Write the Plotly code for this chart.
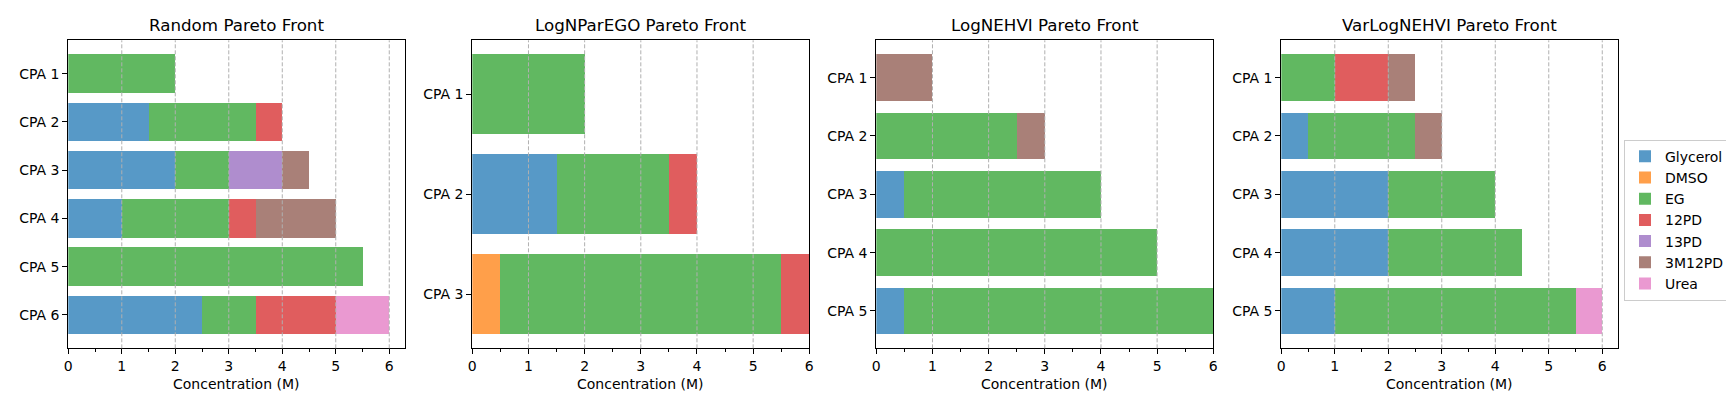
import plotly.graph_objects as go

W, H = 1734, 393

components = ["Glycerol", "DMSO", "EG", "12PD", "13PD", "3M12PD", "Urea"]
colors = ["rgba(31,119,180,0.75)", "rgba(255,127,14,0.75)", "rgba(44,160,44,0.75)",
          "rgba(214,39,40,0.75)", "rgba(148,103,189,0.75)", "rgba(140,86,75,0.75)",
          "rgba(227,119,194,0.75)"]

titles = ["Random Pareto Front", "LogNParEGO Pareto Front", "LogNEHVI Pareto Front", "VarLogNEHVI Pareto Front"]

random_cpas = ["CPA 1", "CPA 2", "CPA 3", "CPA 4", "CPA 5", "CPA 6"]
random_vals = {
    "Glycerol": [0, 1.5, 2, 1, 0, 2.5],
    "DMSO":     [0, 0, 0, 0, 0, 0],
    "EG":       [2, 2, 1, 2, 5.5, 1],
    "12PD":     [0, 0.5, 0, 0.5, 0, 1.5],
    "13PD":     [0, 0, 1, 0, 0, 0],
    "3M12PD":   [0, 0, 0.5, 1.5, 0, 0],
    "Urea":     [0, 0, 0, 0, 0, 1],
}

parego_cpas = ["CPA 1", "CPA 2", "CPA 3"]
parego_vals = {
    "Glycerol": [0, 1.5, 0],
    "DMSO":     [0, 0, 0.5],
    "EG":       [2, 2, 5],
    "12PD":     [0, 0.5, 0.5],
    "13PD":     [0, 0, 0],
    "3M12PD":   [0, 0, 0],
    "Urea":     [0, 0, 0],
}

nehvi_cpas = ["CPA 1", "CPA 2", "CPA 3", "CPA 4", "CPA 5"]
nehvi_vals = {
    "Glycerol": [0, 0, 0.5, 0, 0.5],
    "DMSO":     [0, 0, 0, 0, 0],
    "EG":       [0, 2.5, 3.5, 5, 5.5],
    "12PD":     [0, 0, 0, 0, 0],
    "13PD":     [0, 0, 0, 0, 0],
    "3M12PD":   [1, 0.5, 0, 0, 0],
    "Urea":     [0, 0, 0, 0, 0],
}

varnehvi_cpas = ["CPA 1", "CPA 2", "CPA 3", "CPA 4", "CPA 5"]
varnehvi_vals = {
    "Glycerol": [0, 0.5, 2, 2, 1],
    "DMSO":     [0, 0, 0, 0, 0],
    "EG":       [1, 2, 2, 2.5, 4.5],
    "12PD":     [1, 0, 0, 0, 0],
    "13PD":     [0, 0, 0, 0, 0],
    "3M12PD":   [0.5, 0.5, 0, 0, 0],
    "Urea":     [0, 0, 0, 0, 0.5],
}

x_ticks = [0, 1, 2, 3, 4, 5, 6]

panels = [(random_cpas, random_vals), (parego_cpas, parego_vals),
          (nehvi_cpas, nehvi_vals), (varnehvi_cpas, varnehvi_vals)]
xmax = [6.3, 6.0, 6.0, 6.3]

# pixel layout of each axes box
x_px = [(60.3, 397.3), (464.3, 801.3), (868.3, 1205.3), (1273.3, 1610.3)]
y_px = (32.3, 340.3)

FONT = "DejaVu Sans"
fig = go.Figure()

for ci, comp in enumerate(components):
    for pi, (cpas, vals) in enumerate(panels):
        suffix = "" if pi == 0 else str(pi + 1)
        fig.add_trace(go.Bar(
            y=cpas, x=vals[comp], orientation="h", name=comp,
            marker=dict(color=colors[ci], line=dict(width=0)),
            legendgroup=comp, showlegend=(pi == 0),
            xaxis="x" + suffix, yaxis="y" + suffix,
            hoverinfo="skip",
        ))

layout = dict(
    width=W, height=H, margin=dict(l=0, r=0, t=0, b=0),
    paper_bgcolor="white", plot_bgcolor="white",
    barmode="stack", bargap=0.2,
    font=dict(family=FONT, size=14, color="black"),
    showlegend=True,
    legend=dict(x=1616 / W, y=1 - 131.7 / H, xanchor="left", yanchor="top",
                bordercolor="#cccccc", borderwidth=1, font=dict(size=14),
                itemwidth=30, tracegroupgap=0, bgcolor="white"),
)
annotations = []
shapes = []
for pi, (cpas, vals) in enumerate(panels):
    suffix = "" if pi == 0 else str(pi + 1)
    n = len(cpas)
    m = 0.05 * (n - 1 + 0.8)
    layout["xaxis" + suffix] = dict(
        domain=[x_px[pi][0] / W, x_px[pi][1] / W], anchor="y" + suffix,
        range=[0, xmax[pi]], tickmode="array", tickvals=x_ticks,
        ticks="outside", ticklen=5, tickwidth=1, tickcolor="black",
        minor=dict(ticks="outside", ticklen=3, tickwidth=0.8, dtick=0.5, tick0=0, showgrid=False, tickcolor="black"),
        showgrid=False,
        showline=True, linecolor="black", linewidth=1, mirror=True,
        zeroline=False, tickfont=dict(size=14, family=FONT), automargin=False,
        fixedrange=True,
    )
    layout["yaxis" + suffix] = dict(
        domain=[1 - y_px[1] / H, 1 - y_px[0] / H], anchor="x" + suffix,
        type="category", categoryorder="array", categoryarray=cpas,
        range=[n - 1 + 0.4 + m, -0.4 - m],
        ticks="outside", ticklen=5, tickwidth=1, tickcolor="black",
        showgrid=False, showline=True, linecolor="black", linewidth=1, mirror=True,
        zeroline=False, tickfont=dict(size=14, family=FONT), automargin=False,
        fixedrange=True,
    )
    # dashed vertical grid drawn above bars (matplotlib default layering)
    for t in x_ticks:
        if 0 < t < xmax[pi] or (t == xmax[pi] and xmax[pi] == 6.3):
            shapes.append(dict(type="line", xref="x" + suffix, yref=("y" + suffix) + " domain",
                               x0=t, x1=t, y0=0, y1=1, layer="above",
                               line=dict(color="#b0b0b0", width=1, dash="4px,2px")))
    cx = (x_px[pi][0] + x_px[pi][1]) / 2 / W
    annotations.append(dict(text=titles[pi], x=cx, y=1 - 17.3 / H, xref="paper", yref="paper",
                            xanchor="center", yanchor="middle", showarrow=False,
                            font=dict(size=16.7, family=FONT, color="black")))
    annotations.append(dict(text="Concentration (M)", x=cx, y=1 - 376 / H, xref="paper", yref="paper",
                            xanchor="center", yanchor="middle", showarrow=False,
                            font=dict(size=14, family=FONT, color="black")))
layout["annotations"] = annotations
layout["shapes"] = shapes
fig.update_layout(**layout)
fig.write_html("out.html")
